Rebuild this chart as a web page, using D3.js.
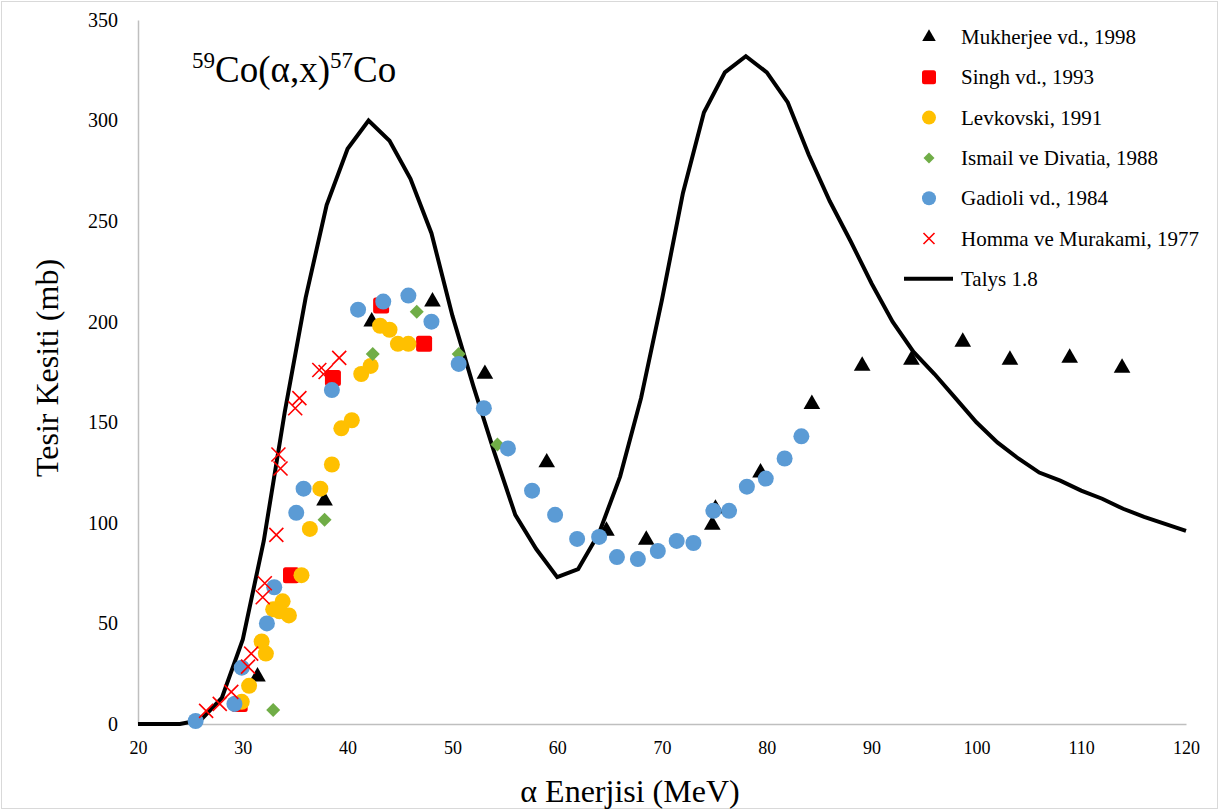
<!DOCTYPE html>
<html>
<head>
<meta charset="utf-8">
<script src="https://cdn.jsdelivr.net/npm/d3@7"></script>
<style>
  body { margin: 0; background: #fff; }
  text { font-family: "Liberation Serif", "Times New Roman", serif; }
</style>
</head>
<body>
<svg id="chart"></svg>
<script>
// Talys 1.8 calculation (MeV, mb)
const talysE  = [20, 22, 24, 26, 28, 30, 32, 34, 36, 38, 40, 42, 44, 46, 48, 50, 52, 54, 56, 58, 60, 62, 64, 66, 68, 70, 72, 74, 76, 78, 80, 82, 84, 86, 88, 90, 92, 94, 96, 98, 100, 102, 104, 106, 108, 110, 112, 114, 116, 118, 120]
const talysXS = [0, 0, 0, 2, 13, 42, 91, 155, 212, 258, 286, 300, 290, 271, 244, 203, 168, 135, 104, 87, 73, 77, 95, 123, 162, 211, 264, 304, 324, 332, 324, 309, 283, 260, 240, 219, 200, 185, 174, 162, 150, 140, 132, 125, 121, 116, 112, 107, 103, 99.5, 96]

// experimental data sets
const mukherjeeE  = [31.4, 37.8, 42.3, 48.1, 53.1, 59.0, 64.7, 68.5, 74.8, 75.1, 79.4, 84.3, 89.1, 93.8, 98.7, 103.2, 108.9, 113.9]
const mukherjeeXS = [23.5, 111, 200, 210, 174, 130, 96, 91.5, 99, 107, 125, 159, 178, 181, 190, 181, 182, 177]

const singhE  = [29.7, 34.6, 38.6, 43.2, 47.3]
const singhXS = [10, 74, 172, 208, 189]

const levkovskiE  = [29.9, 30.6, 31.8, 32.2, 32.9, 33.5, 33.8, 34.4, 35.6, 36.4, 37.4, 38.5, 39.4, 40.4, 41.3, 42.2, 43.1, 44.0, 44.8, 45.8]
const levkovskiXS = [11, 19, 41, 35, 57, 56, 61, 54, 74, 97, 117, 129, 147, 151, 174, 178, 198, 196, 189, 189]

const ismailE  = [32.9, 37.8, 42.4, 46.6, 50.6, 54.3]
const ismailXS = [7, 101.5, 184, 205, 184, 139]

const gadioliE  = [25.5, 29.2, 29.9, 32.3, 33.0, 35.1, 35.8, 38.5, 41.0, 43.4, 45.8, 48.0, 50.6, 53.0, 55.3, 57.6, 59.8, 61.9, 64.0, 65.7, 67.7, 69.6, 71.4, 73.0, 74.9, 76.4, 78.1, 79.9, 81.7, 83.3]
const gadioliXS = [1.5, 10, 28, 50, 68, 105, 117, 166, 206, 210, 213, 200, 179, 157, 137, 116, 104, 92, 93, 83, 82, 86, 91, 90, 106, 106, 118, 122, 132, 143]

const hommaE  = [26.5, 27.8, 28.9, 30.5, 30.8, 31.9, 32.1, 33.2, 33.4, 33.6, 35.0, 35.4, 37.3, 37.9, 39.2]
const hommaXS = [6.5, 10, 16, 28.5, 35, 63, 70, 94, 134, 127, 157, 162, 176, 175, 182]

const xTicks = [20, 30, 40, 50, 60, 70, 80, 90, 100, 110, 120]
const yTicks = [0, 50, 100, 150, 200, 250, 300, 350]

const legendNames = ['Mukherjee vd., 1998', 'Singh vd., 1993', 'Levkovski, 1991', 'Ismail ve Divatia, 1988', 'Gadioli vd., 1984', 'Homma ve Murakami, 1977', 'Talys 1.8']

const zip = (xs, ys) => xs.map((x, i) => ({x: x, y: ys[i]}))

const width = 1219, height = 810
const margin = {left: 138, right: 33, top: 20, bottom: 86}

const svg = d3.select('#chart')
    .attr('width', width)
    .attr('height', height)

svg.append('rect')
    .attr('x', 1.5).attr('y', 1.5)
    .attr('width', width - 3).attr('height', height - 3)
    .attr('fill', '#fff')
    .attr('stroke', '#d9d9d9')

const xScale = d3.scaleLinear().domain([20, 120]).range([margin.left, width - margin.right])
const yScale = d3.scaleLinear().domain([0, 350]).range([height - margin.bottom, margin.top])

// axes
const xAxis = d3.axisBottom(xScale).tickValues(xTicks).tickSize(0).tickPadding(17)
const yAxis = d3.axisLeft(yScale).tickValues(yTicks).tickSize(0).tickPadding(20)

const xAxisG = svg.append('g')
    .attr('transform', `translate(0,${yScale(0)})`)
    .call(xAxis)
const yAxisG = svg.append('g')
    .attr('transform', `translate(${xScale(20)},0)`)
    .call(yAxis)

for (const g of [xAxisG, yAxisG]) {
    g.select('.domain').attr('stroke', '#bfbfbf').attr('stroke-width', 1.5)
    g.selectAll('text')
        .attr('fill', '#000')
        .style('font-family', '"Liberation Serif", serif')
}
xAxisG.selectAll('text').style('font-size', '18px')
yAxisG.selectAll('text').style('font-size', '20px')

// axis titles
svg.append('text')
    .attr('x', 630).attr('y', 802)
    .attr('text-anchor', 'middle')
    .style('font-size', '32px')
    .text('α Enerjisi (MeV)')

svg.append('text')
    .attr('transform', 'translate(58,368) rotate(-90)')
    .attr('text-anchor', 'middle')
    .style('font-size', '32px')
    .text('Tesir Kesiti (mb)')

// reaction label
const title = svg.append('text')
    .attr('x', 192).attr('y', 82)
    .style('font-size', '37px')
title.append('tspan').attr('dy', -14).style('font-size', '23px').text('59')
title.append('tspan').attr('dy', 14).text('Co(α,x)')
title.append('tspan').attr('dy', -14).style('font-size', '23px').text('57')
title.append('tspan').attr('dy', 14).text('Co')

// marker drawing helpers
const dia = (s) => `M0,${-s}L${s},0L0,${s}L${-s},0Z`

function drawTriangles(g, data, size) {
    g.selectAll(null).data(data).join('path')
        .attr('d', d3.symbol().type(d3.symbolTriangle).size(size))
        .attr('transform', d => `translate(${xScale(d.x)},${yScale(d.y)})`)
        .attr('fill', '#000')
}
function drawSquares(g, data, s) {
    g.selectAll(null).data(data).join('rect')
        .attr('x', d => xScale(d.x) - s / 2)
        .attr('y', d => yScale(d.y) - s / 2)
        .attr('width', s).attr('height', s)
        .attr('rx', 2.5)
        .attr('fill', '#ff0000')
}
function drawCircles(g, data, r, color) {
    g.selectAll(null).data(data).join('circle')
        .attr('cx', d => xScale(d.x))
        .attr('cy', d => yScale(d.y))
        .attr('r', r)
        .attr('fill', color)
}
function drawDiamonds(g, data, s) {
    g.selectAll(null).data(data).join('path')
        .attr('d', dia(s))
        .attr('transform', d => `translate(${xScale(d.x)},${yScale(d.y)})`)
        .attr('fill', '#70ad47')
}
function drawCrosses(g, data, s) {
    g.selectAll(null).data(data).join('path')
        .attr('d', `M${-s},${-s}L${s},${s}M${-s},${s}L${s},${-s}`)
        .attr('transform', d => `translate(${xScale(d.x)},${yScale(d.y)})`)
        .attr('stroke', '#ff0000')
        .attr('stroke-width', 1.6)
        .attr('fill', 'none')
}

// Talys line (drawn below the points)
const line = d3.line().x(d => xScale(d.x)).y(d => yScale(d.y))
svg.append('path')
    .datum(zip(talysE, talysXS))
    .attr('d', line)
    .attr('fill', 'none')
    .attr('stroke', '#000')
    .attr('stroke-width', 4)
    .attr('stroke-linejoin', 'miter')

const marks = svg.append('g')
drawTriangles(marks.append('g'), zip(mukherjeeE, mukherjeeXS), 120)
drawSquares(marks.append('g'), zip(singhE, singhXS), 16)
drawCircles(marks.append('g'), zip(levkovskiE, levkovskiXS), 8, '#ffc000')
drawDiamonds(marks.append('g'), zip(ismailE, ismailXS), 7)
drawCircles(marks.append('g'), zip(gadioliE, gadioliXS), 8, '#5b9bd5')
drawCrosses(marks.append('g'), zip(hommaE, hommaXS), 7)

// legend
const legend = svg.append('g')
const rowY = i => 37 + i * 40.3
const legX = 929
legend.selectAll('text').data(legendNames).join('text')
    .attr('x', 961)
    .attr('y', (d, i) => rowY(i) + 7)
    .style('font-size', '21px')
    .text(d => d)

drawTriangles(legend.append('g'), [{x: xScale.invert(legX), y: yScale.invert(rowY(0))}], 80)
drawSquares(legend.append('g'), [{x: xScale.invert(legX), y: yScale.invert(rowY(1))}], 14)
drawCircles(legend.append('g'), [{x: xScale.invert(legX), y: yScale.invert(rowY(2))}], 7, '#ffc000')
drawDiamonds(legend.append('g'), [{x: xScale.invert(legX), y: yScale.invert(rowY(3))}], 5.5)
drawCircles(legend.append('g'), [{x: xScale.invert(legX), y: yScale.invert(rowY(4))}], 7, '#5b9bd5')
drawCrosses(legend.append('g'), [{x: xScale.invert(legX), y: yScale.invert(rowY(5))}], 5.5)
legend.append('line')
    .attr('x1', 904).attr('x2', 953)
    .attr('y1', rowY(6)).attr('y2', rowY(6))
    .attr('stroke', '#000')
    .attr('stroke-width', 4)
</script>
</body>
</html>
